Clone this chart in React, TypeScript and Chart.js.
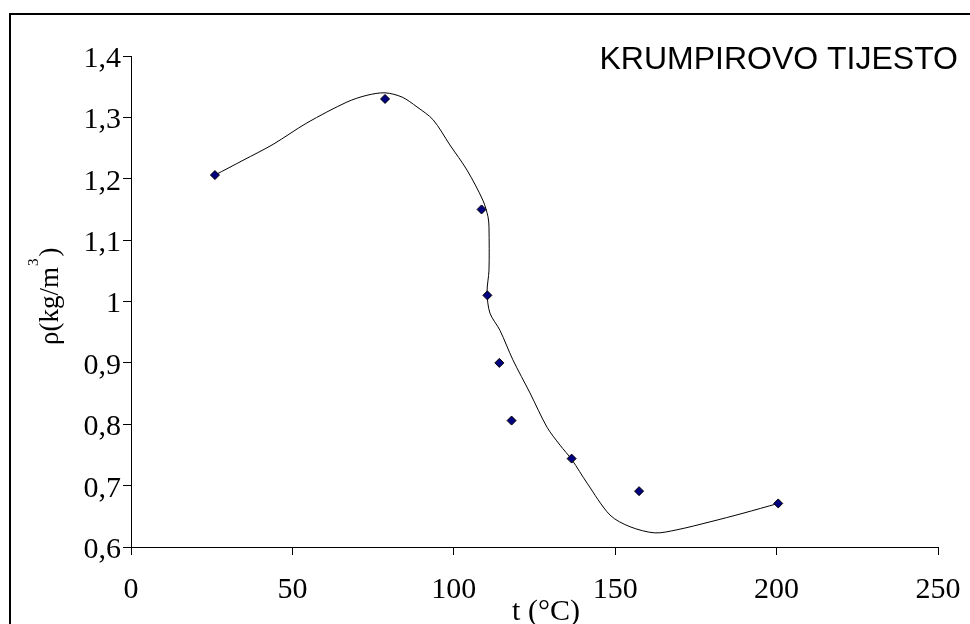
import React, { useEffect, useRef } from 'react';
import { Chart, registerables } from 'chart.js';

Chart.register(...registerables);

// Measured points: temperature (°C) vs density
const tempPoints = [26, 78.7, 108.6, 110.4, 114.1, 117.9, 136.5, 157.4, 200.5];
const densityPoints = [1.206, 1.33, 1.15, 1.01, 0.9, 0.806, 0.744, 0.691, 0.671];

// Hand-drawn trend curve
const curveTemp = [26, 34.7, 44, 54.5, 66.9, 73.1, 78.7, 84, 88.6, 93.6, 98.8, 104.1, 109, 110.6, 110.9, 110.9, 110.3, 111.2, 114.3, 118.3, 123.6, 128.9, 132.9, 136.6, 141.3, 148.4, 154.6, 162.3, 169.1, 179.4, 189.6, 200.5];
const curveDensity = [1.206, 1.23, 1.256, 1.291, 1.325, 1.336, 1.34, 1.333, 1.317, 1.296, 1.255, 1.214, 1.165, 1.138, 1.121, 1.051, 1.015, 0.981, 0.953, 0.905, 0.851, 0.795, 0.766, 0.742, 0.704, 0.652, 0.633, 0.623, 0.628, 0.641, 0.655, 0.671];

const xTicks = [0, 50, 100, 150, 200, 250];
const yTicks = [0.6, 0.7, 0.8, 0.9, 1.0, 1.1, 1.2, 1.3, 1.4];

const chartLabel = 'KRUMPIROVO TIJESTO';
const xTitle = 't (°C)';
const yTitleMain = 'ρ(kg/m';
const yTitleSup = '3';
const yTitleEnd = ')';

const SERIF = '"Liberation Serif", "Times New Roman", serif';
const SANS = '"Liberation Sans", Arial, sans-serif';

const decorPlugin = {
  id: 'decor',
  afterDraw(chart: any) {
    const ctx = chart.ctx as CanvasRenderingContext2D;
    ctx.save();
    // outer frame (left and top edges visible)
    ctx.strokeStyle = '#000';
    ctx.lineWidth = 2;
    ctx.beginPath();
    ctx.moveTo(10, 700);
    ctx.lineTo(10, 14);
    ctx.lineTo(1000, 14);
    ctx.stroke();

    // chart label
    ctx.fillStyle = '#000';
    ctx.font = '32px ' + SANS;
    ctx.textAlign = 'right';
    ctx.textBaseline = 'alphabetic';
    ctx.fillText(chartLabel, 958, 69);

    // x title
    ctx.font = '30px ' + SERIF;
    ctx.textAlign = 'center';
    ctx.fillText(xTitle, 546, 620);

    // y title rotated with superscript
    ctx.translate(58, 345);
    ctx.rotate(-Math.PI / 2);
    ctx.textAlign = 'left';
    ctx.font = '27px ' + SERIF;
    ctx.fillText(yTitleMain, 0, 0);
    const w1 = ctx.measureText(yTitleMain).width;
    ctx.font = '15px ' + SERIF;
    ctx.fillText(yTitleSup, w1 + 1, -20);
    const w2 = ctx.measureText(yTitleSup).width;
    ctx.font = '27px ' + SERIF;
    ctx.fillText(yTitleEnd, w1 + w2 + 3, 0);
    ctx.restore();
  },
};

function fmt(v: number) {
  return String(Number(v.toFixed(1))).replace('.', ',');
}

export default function App() {
  const ref = useRef<HTMLCanvasElement | null>(null);

  useEffect(() => {
    document.body.style.margin = '0';
    document.body.style.overflow = 'hidden';
    const canvas = ref.current;
    if (!canvas) return;
    const chart = new Chart(canvas, {
      type: 'scatter',
      data: {
        datasets: [
          {
            label: 'points',
            data: tempPoints.map((t, i) => ({ x: t, y: densityPoints[i] })),
            pointStyle: 'rectRot',
            pointRadius: 4.5,
            pointBackgroundColor: '#000080',
            pointBorderColor: '#000',
            pointBorderWidth: 1,
            showLine: false,
          },
          {
            label: 'curve',
            data: curveTemp.map((t, i) => ({ x: t, y: curveDensity[i] })),
            showLine: true,
            borderColor: '#000',
            borderWidth: 1,
            pointRadius: 0,
            tension: 0.3,
            fill: false,
          },
        ],
      },
      options: {
        responsive: false,
        animation: false,
        events: [],
        layout: { padding: { left: 0, top: 56, right: 32, bottom: 0 } },
        plugins: {
          legend: { display: false },
          tooltip: { enabled: false },
          title: { display: false },
        },
        scales: {
          x: {
            type: 'linear',
            min: 0,
            max: 250,
            afterFit: (s: any) => { s.height = 77; s.paddingRight = 0; s.paddingLeft = 0; },
            afterBuildTicks: (s: any) => { s.ticks = xTicks.map((v) => ({ value: v })); },
            grid: { drawOnChartArea: false, drawTicks: true, tickLength: 8, color: '#000', lineWidth: 1 },
            border: { display: true, color: '#000', width: 1 },
            ticks: {
              color: '#000',
              font: { family: SERIF, size: 30 },
              padding: 17,
              maxRotation: 0,
              autoSkip: false,
              callback: (v: any) => String(v),
            },
          },
          y: {
            type: 'linear',
            min: 0.6,
            max: 1.4,
            afterFit: (s: any) => { s.width = 131; s.paddingTop = 0; s.paddingBottom = 0; },
            afterBuildTicks: (s: any) => { s.ticks = yTicks.map((v) => ({ value: v })); },
            grid: { drawOnChartArea: false, drawTicks: true, tickLength: 8, color: '#000', lineWidth: 1 },
            border: { display: true, color: '#000', width: 1 },
            ticks: {
              color: '#000',
              font: { family: SERIF, size: 30 },
              padding: 2,
              labelOffset: 3,
              autoSkip: false,
              callback: (v: any) => fmt(Number(v)),
            },
          },
        },
      },
      plugins: [decorPlugin],
    });
    return () => chart.destroy();
  }, []);

  return (
    <div style={{ width: 970, height: 624, background: '#fff' }}>
      <canvas ref={ref} width={970} height={624} style={{ display: 'block' }} />
    </div>
  );
}
